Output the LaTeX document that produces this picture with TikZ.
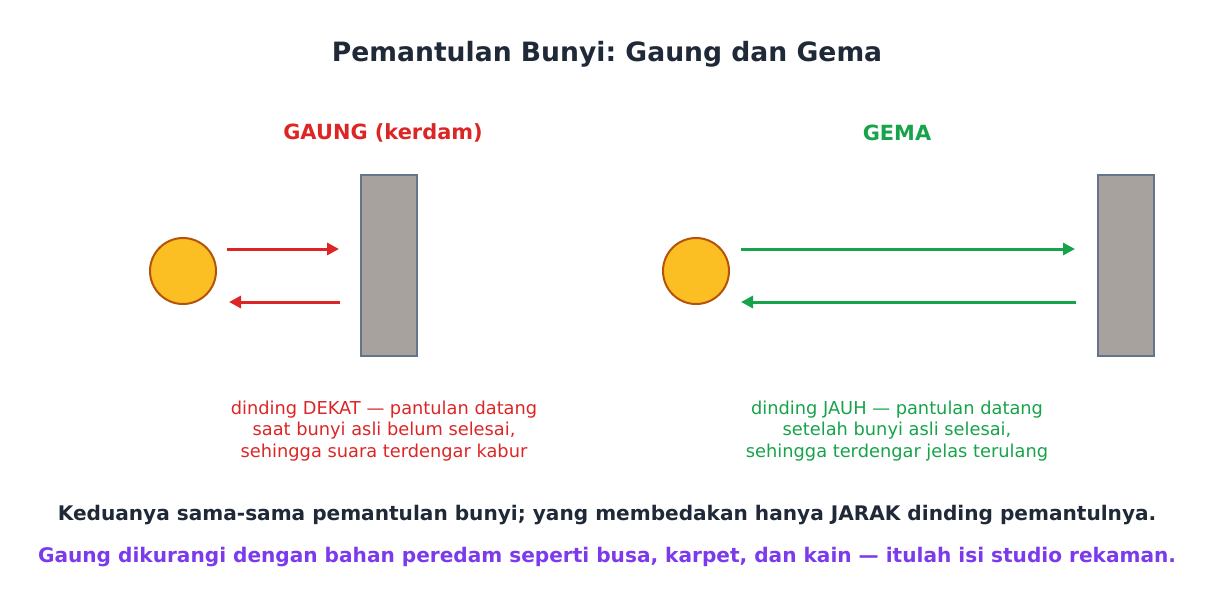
\documentclass[tikz,border=0pt]{standalone}
\usepackage{fontspec}
\setmainfont{DejaVu Sans}
\frenchspacing
\usetikzlibrary{arrows.meta, positioning}
\definecolor{inkdark}{HTML}{1F2937}
\definecolor{gaungred}{HTML}{DC2626}
\definecolor{gemagreen}{HTML}{16A34A}
\definecolor{notepurple}{HTML}{7C3AED}
\definecolor{srcfill}{HTML}{FBBF24}
\definecolor{srcline}{HTML}{B45309}
\definecolor{wallfill}{HTML}{A8A29E}
\definecolor{wallline}{HTML}{64748B}
\tikzset{
x=1pt, y=-1pt,
source/.style={draw=srcline, fill=srcfill, circle, line width=2pt, minimum size=66pt, inner sep=0pt}, % the sound source
wall/.style={draw=wallline, fill=wallfill, line width=2pt, minimum width=56pt, minimum height=181pt, inner sep=0pt}, % reflecting wall
wave/.style={line width=3pt, -{Triangle[length=12pt,width=12pt]}}, % sound going and coming back
heading/.style={font=\bfseries\fontsize{20.9}{25}\selectfont},
caption/.style={align=center, font=\fontsize{17.8}{21.7}\selectfont},
note/.style={font=\bfseries\fontsize{20.1}{24}\selectfont},
}
\begin{document}
\begin{tikzpicture}
    \useasboundingbox (0,0) rectangle (1214,606);
    \node[font=\bfseries\fontsize{26.6}{32}\selectfont, text=inkdark] at (607,54) (title) {Pemantulan Bunyi: Gaung dan Gema};
    % gaung
    \node[heading, text=gaungred] at (383,133) (gaunghead) {GAUNG (kerdam)};
    \node[source] at (183,271) (srcL) {};
    \node[wall] at (389,265.5) (wallL) {};
    \node[caption, text=gaungred] at (384,431) (gaungtext) {dinding DEKAT — pantulan datang\\saat bunyi asli belum selesai,\\sehingga suara terdengar kabur};
    % gema
    \node[heading, text=gemagreen] at (897,133) (gemahead) {GEMA};
    \node[source] at (696,271) (srcR) {};
    \node[wall] at (1126,265.5) (wallR) {};
    \node[caption, text=gemagreen] at (897,431) (gematext) {dinding JAUH — pantulan datang\\setelah bunyi asli selesai,\\sehingga terdengar jelas terulang};
    % notes
    \node[note, text=inkdark] at (607,515) (note1) {Keduanya sama-sama pemantulan bunyi; yang membedakan hanya JARAK dinding pemantulnya.};
    \node[note, text=notepurple] at (607,557) (note2) {Gaung dikurangi dengan bahan peredam seperti busa, karpet, dan kain — itulah isi studio rekaman.};
    \draw[wave, gaungred, shorten <=10pt, shorten >=21pt]
    ([yshift=22pt]srcL.east) -- ([yshift=22pt]srcL.east -| wallL.west);
    \draw[wave, gaungred, shorten <=20pt, shorten >=12pt]
    ([yshift=-31pt]srcL.east -| wallL.west) -- ([yshift=-31pt]srcL.east);
    \draw[wave, gemagreen, shorten <=11pt, shorten >=22pt]
    ([yshift=22pt]srcR.east) -- ([yshift=22pt]srcR.east -| wallR.west);
    \draw[wave, gemagreen, shorten <=21pt, shorten >=11pt]
    ([yshift=-31pt]srcR.east -| wallR.west) -- ([yshift=-31pt]srcR.east);
\end{tikzpicture}
\end{document}
